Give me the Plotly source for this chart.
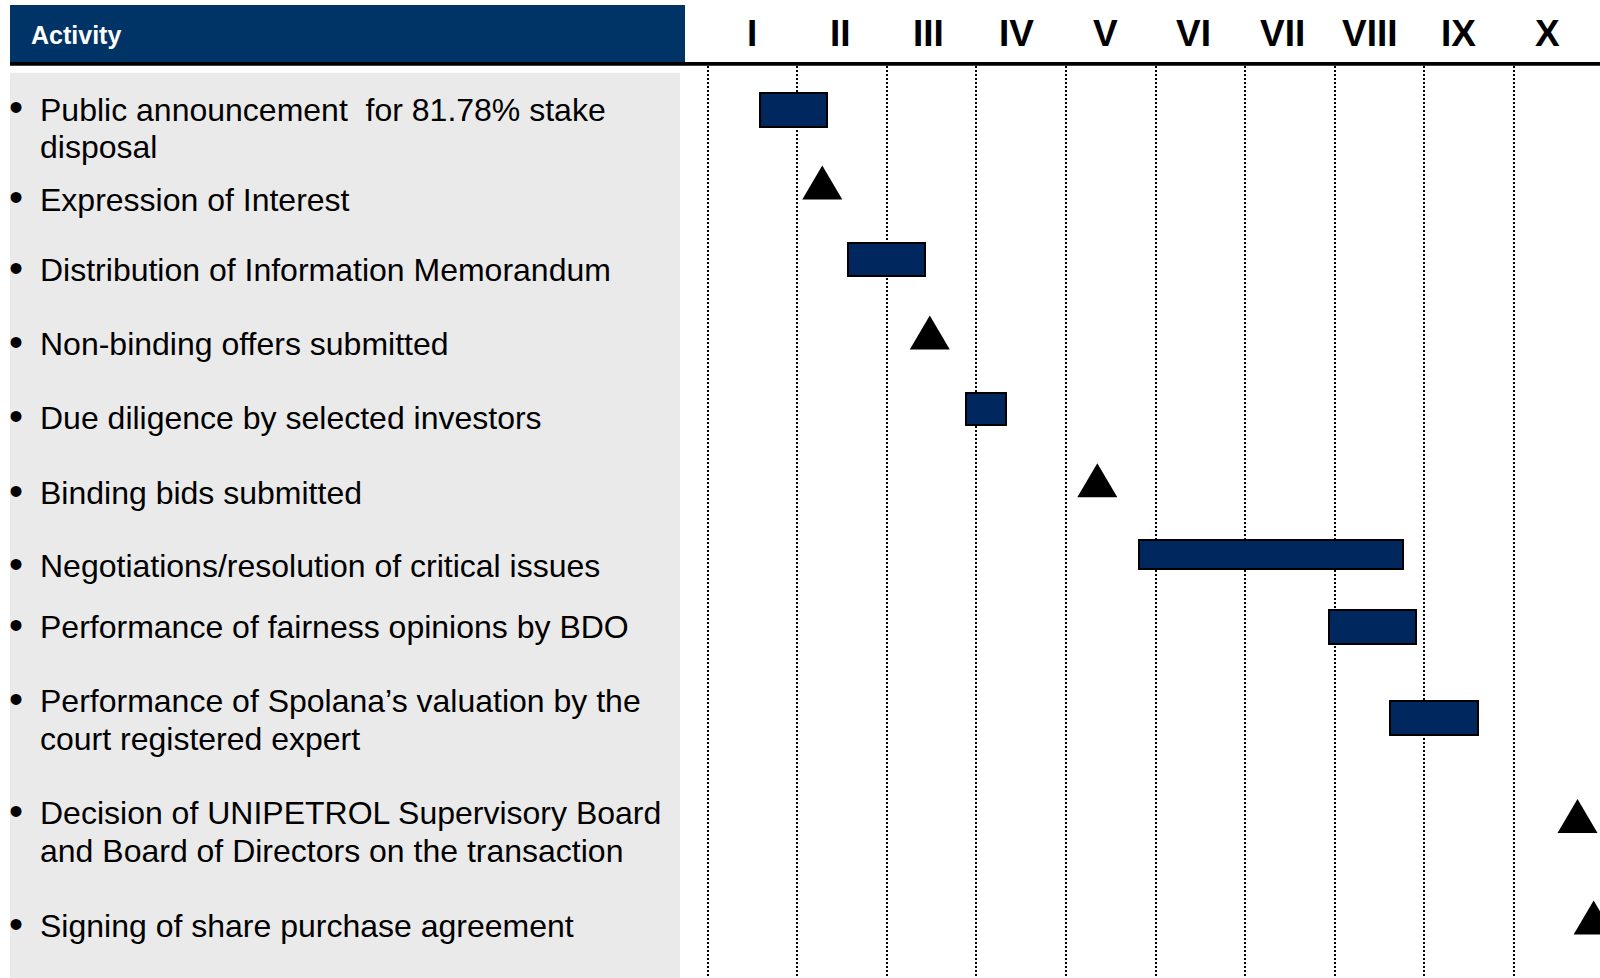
import plotly.graph_objects as go

# ---------------- data ----------------
columns = ["I", "II", "III", "IV", "V", "VI", "VII", "VIII", "IX", "X"]

activities = [
    "Public announcement  for 81.78% stake<br>disposal",
    "Expression of Interest",
    "Distribution of Information Memorandum",
    "Non-binding offers submitted",
    "Due diligence by selected investors",
    "Binding bids submitted",
    "Negotiations/resolution of critical issues",
    "Performance of fairness opinions by BDO",
    "Performance of Spolana’s valuation by the<br>court registered expert",
    "Decision of UNIPETROL Supervisory Board<br>and Board of Directors on the transaction",
    "Signing of share purchase agreement",
]

# activities shown as bars (row index, start, end in column units)
bar_rows = [0, 2, 4, 6, 7, 8]
bar_start = [0.59, 1.57, 2.88, 4.82, 6.94, 7.62]
bar_end = [1.33, 2.43, 3.33, 7.76, 7.91, 8.60]

# milestones shown as triangles (row index, position in column units)
milestone_rows = [1, 3, 5, 9, 10]
milestone_at = [1.28, 2.48, 4.35, 9.71, 9.89]

# ---------------- layout parameters (pixels) ----------------
W, H = 1600, 978
FONT = "Liberation Sans, Arial, sans-serif"
NAVY_HEAD = "#003366"
NAVY_BAR = "#00285E"
PANEL = "#EAEAEA"

PLOT_LEFT = 690
PLOT_TOP = 66
GRID0 = 707.6          # pixel of column boundary 0
COL_W = 89.59          # pixel width of one column
LABEL_PITCH = 88.4     # header labels sit on a slightly tighter pitch

row_centre = [110, 182.5, 259.5, 332.5, 408.8, 480.3, 554.7, 627.2, 717.8, 816, 917.5]
text_centre = [109.5, 199.5, 270, 344, 418, 493, 566, 627, 701, 813, 925.5]
LINE_GAP = 38
bar_thickness = [34.6, 33.6, 31.7, 28.7, 33.7, 33.7]
TRI_HALF_W, TRI_HALF_H = 20, 17


def py(px):
    return 1 - px / H


x_lo = (PLOT_LEFT - GRID0) / COL_W
x_hi = (W - GRID0) / COL_W

fig = go.Figure()

fig.add_trace(go.Bar(
    orientation="h",
    y=[row_centre[r] for r in bar_rows],
    base=bar_start,
    x=[e - s for s, e in zip(bar_start, bar_end)],
    width=bar_thickness,
    marker=dict(color=NAVY_BAR, line=dict(color="black", width=2)),
    hoverinfo="skip",
    showlegend=False,
))

shapes = []
# header box
shapes.append(dict(type="rect", xref="paper", yref="paper",
                   x0=10 / W, x1=685 / W, y0=py(62), y1=py(5),
                   fillcolor=NAVY_HEAD, line=dict(width=0), layer="below"))
# header rule
shapes.append(dict(type="rect", xref="paper", yref="paper",
                   x0=10 / W, x1=1, y0=py(65.7), y1=py(62),
                   fillcolor="black", line=dict(width=0), layer="above"))
# grey activity panel
shapes.append(dict(type="rect", xref="paper", yref="paper",
                   x0=10 / W, x1=680 / W, y0=0, y1=py(72.7),
                   fillcolor=PANEL, line=dict(width=0), layer="below"))
# milestone triangles
for r, m in zip(milestone_rows, milestone_at):
    shapes.append(dict(
        type="path", xref="x", yref="y",
        xsizemode="pixel", ysizemode="pixel",
        xanchor=m, yanchor=row_centre[r],
        path=f"M{-TRI_HALF_W},{-TRI_HALF_H} L{TRI_HALF_W},{-TRI_HALF_H} L0,{TRI_HALF_H} Z",
        fillcolor="black", line=dict(width=0), layer="above"))

annotations = []
annotations.append(dict(text="<b>Activity</b>", xref="paper", yref="paper",
                        x=30.5 / W, y=py(34.5), xanchor="left", yanchor="middle",
                        showarrow=False, borderpad=0, borderwidth=0,
                        font=dict(family=FONT, size=25, color="white")))
for i, c in enumerate(columns):
    annotations.append(dict(text=f"<b>{c}</b>", xref="x", yref="paper",
                            x=i + 0.5, y=py(33.5), xanchor="center", yanchor="middle",
                            xshift=(LABEL_PITCH - COL_W) * i - 0.8,
                            showarrow=False, borderpad=0, borderwidth=0,
                            font=dict(family=FONT, size=37, color="black")))
for i, label in enumerate(activities):
    lines = label.split("<br>")
    annotations.append(dict(text="•", xref="paper", yref="paper",
                            x=9.2 / W, y=py(text_centre[i] - 2), xanchor="left", yanchor="middle",
                            showarrow=False, borderpad=0, borderwidth=0,
                            font=dict(family=FONT, size=40, color="black")))
    for j, ln in enumerate(lines):
        annotations.append(dict(text=ln, xref="paper", yref="paper",
                                x=40 / W, y=py(text_centre[i] + j * LINE_GAP),
                                xanchor="left", yanchor="middle",
                                showarrow=False, borderpad=0, borderwidth=0,
                                font=dict(family=FONT, size=32, color="black")))

fig.update_layout(
    width=W, height=H,
    margin=dict(l=0, r=0, t=0, b=0),
    paper_bgcolor="white", plot_bgcolor="white",
    font=dict(family=FONT),
    shapes=shapes,
    annotations=annotations,
    bargap=0,
    xaxis=dict(domain=[PLOT_LEFT / W, 1], range=[x_lo, x_hi],
               tickmode="array", tickvals=list(range(len(columns))),
               showticklabels=False, ticks="",
               showgrid=True, gridcolor="black", gridwidth=1.5, griddash="2px,2px",
               zeroline=False, showline=False, fixedrange=True),
    yaxis=dict(domain=[0, py(PLOT_TOP)], range=[H, PLOT_TOP],
               showgrid=False, showticklabels=False, ticks="",
               zeroline=False, showline=False, fixedrange=True),
)

fig.write_html(
    "out.html",
    config={"displayModeBar": False},
    post_script="document.body.style.margin='0';document.body.style.overflow='hidden';",
)
